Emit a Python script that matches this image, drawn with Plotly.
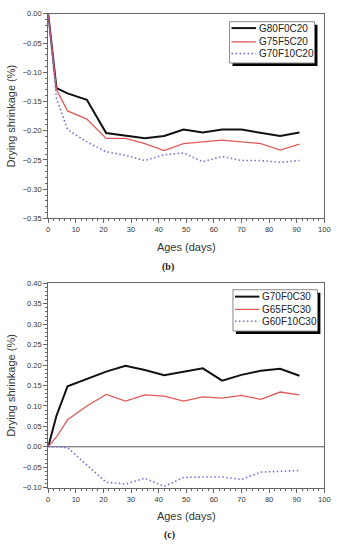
import plotly.graph_objects as go

ages = [0, 3, 7, 14, 21, 28, 35, 42, 49, 56, 63, 70, 77, 84, 91]

names_b = ["G80F0C20", "G75F5C20", "G70F10C20"]
black_b = [0, -0.127, -0.136, -0.147, -0.204, -0.209, -0.213, -0.209, -0.198, -0.203, -0.198, -0.198, -0.203, -0.209, -0.203]
red_b = [0, -0.130, -0.166, -0.180, -0.213, -0.213, -0.222, -0.234, -0.222, -0.219, -0.216, -0.219, -0.222, -0.233, -0.223]
blue_b = [0, -0.145, -0.198, -0.219, -0.236, -0.242, -0.251, -0.241, -0.238, -0.253, -0.244, -0.251, -0.251, -0.254, -0.251]

names_c = ["G70F0C30", "G65F5C30", "G60F10C30"]
black_c = [0, 0.076, 0.148, 0.166, 0.184, 0.198, 0.188, 0.175, 0.184, 0.192, 0.162, 0.176, 0.186, 0.191, 0.174]
red_c = [0, 0.024, 0.066, 0.100, 0.128, 0.112, 0.127, 0.124, 0.112, 0.122, 0.119, 0.126, 0.116, 0.134, 0.127]
blue_c = [0, 0, -0.002, -0.044, -0.087, -0.091, -0.077, -0.097, -0.075, -0.074, -0.074, -0.080, -0.062, -0.060, -0.058]

x_ticks = [0, 10, 20, 30, 40, 50, 60, 70, 80, 90, 100]
y_ticks_b = [0.00, -0.05, -0.10, -0.15, -0.20, -0.25, -0.30, -0.35]
y_ticks_c = [0.40, 0.35, 0.30, 0.25, 0.20, 0.15, 0.10, 0.05, 0.00, -0.05, -0.10]

W, H = 343, 550
FONT = "Liberation Sans, Arial, sans-serif"
SERIF = "Liberation Serif, Times New Roman, serif"
styles = [
    dict(color="#111111", width=2.0, dash="solid"),
    dict(color="#e05a5a", width=1.3, dash="solid"),
    dict(color="#7070dc", width=1.6, dash="1.5px,2.5px"),
]

fig = go.Figure()
for series, nm, st in zip([black_b, red_b, blue_b], names_b, styles):
    fig.add_trace(go.Scatter(x=ages, y=series, name=nm, mode="lines", line=st,
                             xaxis="x", yaxis="y", showlegend=False))
for series, nm, st in zip([black_c, red_c, blue_c], names_c, styles):
    fig.add_trace(go.Scatter(x=ages, y=series, name=nm, mode="lines", line=st,
                             xaxis="x2", yaxis="y2", showlegend=False))


def px_x(p):
    return p / W


def px_y(p):
    return 1 - p / H


xdom = [px_x(47.3), px_x(330)]
ydom_b = [px_y(218), px_y(10)]
ydom_c = [px_y(491.7), px_y(284)]

axis_common = dict(showline=True, linecolor="#666666", linewidth=1, mirror=True,
                   ticks="outside", ticklen=4, tickcolor="#666666", showgrid=False,
                   zeroline=False, tickfont=dict(family=FONT, size=7.5, color="#333333"))
title_font = dict(size=11, family=FONT, color="#333333")

fig.update_layout(
    width=W, height=H,
    margin=dict(l=0, r=0, t=0, b=0),
    paper_bgcolor="white", plot_bgcolor="white",
    font=dict(family=FONT, color="#333333"),
    showlegend=False,
    xaxis=dict(domain=xdom, range=[0, 100], tickvals=x_ticks, anchor="y",
               minor=dict(dtick=2, ticks="outside", ticklen=2, tickcolor="#666666"),
               title=dict(text="Ages (days)", font=title_font, standoff=9),
               **axis_common),
    yaxis=dict(domain=ydom_b, range=[-0.35, 0.0], tickvals=y_ticks_b, tickformat=".2f", anchor="x",
               minor=dict(dtick=0.01, ticks="outside", ticklen=2, tickcolor="#666666"),
               title=dict(text="Drying shrinkage (%)", font=title_font, standoff=4),
               **axis_common),
    xaxis2=dict(domain=xdom, range=[0, 100], tickvals=x_ticks, anchor="y2",
                minor=dict(dtick=2, ticks="outside", ticklen=2, tickcolor="#666666"),
                title=dict(text="Ages (days)", font=title_font, standoff=9),
                **axis_common),
    yaxis2=dict(domain=ydom_c, range=[-0.10, 0.40], tickvals=y_ticks_c, tickformat=".2f", anchor="x2",
                minor=dict(dtick=0.01, ticks="outside", ticklen=2, tickcolor="#666666"),
                title=dict(text="Drying shrinkage (%)", font=title_font, standoff=4),
                **axis_common),
)

# zero line in panel (c)
fig.add_shape(type="line", xref="x2 domain", yref="y2", x0=0, x1=1, y0=0, y1=0,
              line=dict(color="#555555", width=1), layer="below")


def add_legend(names, left, top, right, rows):
    # shadow
    fig.add_shape(type="rect", xref="paper", yref="paper",
                  x0=px_x(left + 3), x1=px_x(right + 3), y0=px_y(top + 45), y1=px_y(top + 3),
                  fillcolor="black", line=dict(width=0), layer="above")
    # box
    fig.add_shape(type="rect", xref="paper", yref="paper",
                  x0=px_x(left), x1=px_x(right), y0=px_y(top + 42), y1=px_y(top),
                  fillcolor="white", line=dict(color="#888888", width=1), layer="above")
    for nm, st, ry in zip(names, styles, rows):
        fig.add_shape(type="line", xref="paper", yref="paper",
                      x0=px_x(left + 2), x1=px_x(left + 27), y0=px_y(ry), y1=px_y(ry),
                      line=dict(color=st["color"], width=st["width"], dash=st["dash"]),
                      layer="above")
        fig.add_annotation(text=nm, xref="paper", yref="paper", x=px_x(left + 28), y=px_y(ry),
                           xanchor="left", yanchor="middle", showarrow=False,
                           font=dict(family=FONT, size=10, color="#222222"))


add_legend(names_b, 233, 18, 320, [24.5, 38.5, 50.5])
add_legend(names_c, 236.5, 290.5, 323, [297.5, 310.5, 322.5])

fig.add_annotation(text="<b>(b)</b>", xref="paper", yref="paper", x=px_x(170), y=px_y(267),
                   xanchor="center", yanchor="middle", showarrow=False,
                   font=dict(family=SERIF, size=10, color="#222222"))
fig.add_annotation(text="<b>(c)</b>", xref="paper", yref="paper", x=px_x(172), y=px_y(540),
                   xanchor="center", yanchor="middle", showarrow=False,
                   font=dict(family=SERIF, size=10, color="#222222"))

fig.write_html("out.html", config={"displayModeBar": False},
               post_script="document.body.style.margin='0px';document.body.style.overflow='hidden';")
